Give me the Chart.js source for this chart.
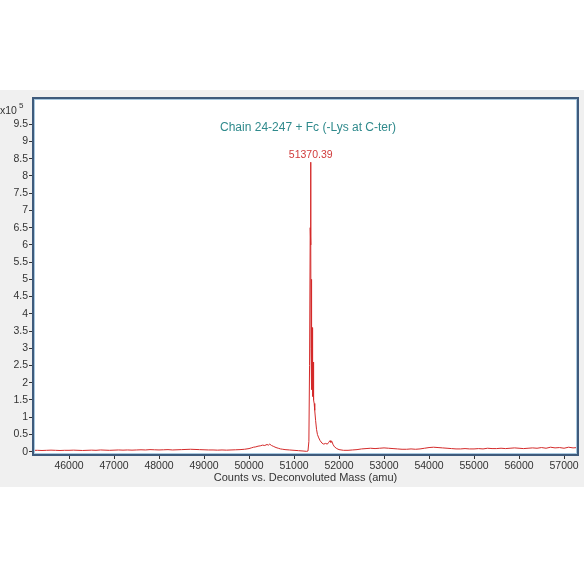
<!DOCTYPE html>
<html>
<head>
<meta charset="utf-8">
<script src="https://cdn.jsdelivr.net/npm/chart.js@4"></script>
<style>
  html, body { margin: 0; padding: 0; background: #ffffff; }
  #panel { position: absolute; left: 0; top: 90px; width: 584px; height: 397px; background: #f0f0f0; }
  canvas { display: block; }
</style>
</head>
<body>
<div id="panel"><canvas id="c" width="584" height="397"></canvas></div>
<script>
// ---- Data (counts in units of 10^5) ----
const masses = [
  45200,45300,45400,45500,45600,45700,45800,45900,46000,46100,46200,46300,46400,46500,46600,46700,46800,46900,
  47000,47100,47200,47300,47400,47500,47600,47700,47800,47900,48000,48100,48200,48300,48400,48500,48600,48700,
  48800,48900,49000,49100,49200,49300,49400,49500,49600,49700,49800,49900,
  50000,50050,50100,50150,50200,50250,50300,50350,50400,50430,50460,50500,50550,50600,50650,50700,50750,50800,
  50900,51000,51100,51200,51280,51310,51330,51345,51360,51370,51374,51378,51382,51385,51388,51391,51394,51397,
  51400,51403,51406,51409,51412,51415,51418,51421,51424,51427,51430,51434,51438,51442,51448,51460,51480,51500,
  51520,51550,51580,51620,51660,51700,51740,51770,
  51800,51820,51840,51870,51900,51950,52000,52100,52200,52300,52400,52500,52600,52700,52800,52900,53000,53100,
  53200,53300,53400,53500,53600,53700,53800,53900,54000,54100,54200,54300,54400,54500,54600,54700,54800,54900,
  55000,55100,55200,55300,55400,55500,55600,55700,55800,55900,56000,56100,56200,56300,56400,56500,56600,56700,
  56800,56900,57000,57100,57200,57300
];
const counts = [
  0.04,0.04,0.035,0.04,0.045,0.04,0.035,0.04,0.04,0.045,0.04,0.035,0.04,0.045,0.04,0.05,0.045,0.04,
  0.045,0.05,0.045,0.05,0.045,0.05,0.055,0.05,0.06,0.055,0.05,0.055,0.06,0.05,0.055,0.06,0.065,0.07,
  0.065,0.06,0.055,0.05,0.05,0.045,0.05,0.045,0.05,0.055,0.06,0.07,
  0.09,0.11,0.13,0.14,0.16,0.17,0.19,0.18,0.21,0.19,0.22,0.18,0.15,0.12,0.10,0.08,0.07,0.06,
  0.05,0.04,0.03,0.02,0.01,0.02,0.3,2.5,6.5,8.4,6.0,3.0,5.0,2.0,4.6,1.8,4.3,2.2,
  3.6,1.7,3.3,2.0,3.0,1.6,2.8,1.8,2.6,1.5,2.4,1.6,2.1,1.5,1.4,1.2,0.9,0.65,
  0.5,0.4,0.32,0.25,0.22,0.24,0.22,0.27,
  0.32,0.27,0.30,0.20,0.14,0.09,0.06,0.04,0.04,0.05,0.06,0.08,0.09,0.10,0.09,0.10,0.11,0.10,
  0.09,0.08,0.07,0.07,0.08,0.07,0.08,0.10,0.12,0.13,0.12,0.11,0.10,0.09,0.08,0.08,0.09,0.08,
  0.08,0.09,0.08,0.10,0.09,0.09,0.10,0.09,0.10,0.11,0.10,0.09,0.10,0.11,0.10,0.12,0.10,0.13,
  0.11,0.12,0.10,0.13,0.11,0.12
];
const xTicks = [46000,47000,48000,49000,50000,51000,52000,53000,54000,55000,56000,57000];
const yTicks = [0,0.5,1,1.5,2,2.5,3,3.5,4,4.5,5,5.5,6,6.5,7,7.5,8,8.5,9,9.5];
const chartTitle = 'Chain 24-247 + Fc (-Lys at C-ter)';
const xTitle = 'Counts vs. Deconvoluted Mass (amu)';
const peakMass = 51370.39;
const peakCount = 8.4;

const points = masses.map((m, i) => ({x: m, y: counts[i]}));
const FONT = '"Liberation Sans", Arial, sans-serif';

const framePlugin = {
  id: 'frame',
  beforeDraw(chart) {
    const {ctx, chartArea: a} = chart;
    ctx.save();
    ctx.fillStyle = '#ffffff';
    ctx.fillRect(a.left, a.top, a.right - a.left, a.bottom - a.top);
    ctx.restore();
  },
  afterDraw(chart) {
    const {ctx, chartArea: a, scales} = chart;
    ctx.save();
    ctx.strokeStyle = '#a9c9e0';
    ctx.lineWidth = 1;
    ctx.strokeRect(a.left + 1.5, a.top + 1.5, a.right - a.left - 3, a.bottom - a.top - 3);
    ctx.strokeStyle = '#3f5b7c';
    ctx.lineWidth = 2;
    ctx.strokeRect(a.left, a.top, a.right - a.left, a.bottom - a.top);
    ctx.fillStyle = '#2f8a8c';
    ctx.font = '12px ' + FONT;
    ctx.textAlign = 'center';
    ctx.textBaseline = 'middle';
    ctx.fillText(chartTitle, 308, 38);
    const px = scales.x.getPixelForValue(peakMass);
    const py = scales.y.getPixelForValue(peakCount);
    ctx.fillStyle = '#d03a3a';
    ctx.font = '10.5px ' + FONT;
    ctx.textBaseline = 'bottom';
    ctx.fillText(peakMass.toFixed(2), px, py - 2);
    ctx.fillStyle = '#333333';
    ctx.textAlign = 'left';
    ctx.textBaseline = 'middle';
    ctx.font = '10.5px ' + FONT;
    ctx.fillText('x10', 0, 21);
    ctx.font = '8px ' + FONT;
    ctx.fillText('5', 19, 16);
    ctx.restore();
  }
};

new Chart(document.getElementById('c'), {
  type: 'line',
  data: {
    datasets: [{
      data: points,
      borderColor: '#d42a2a',
      borderWidth: 1,
      pointRadius: 0,
      tension: 0,
      fill: false
    }]
  },
  options: {
    responsive: false,
    animation: false,
    layout: { padding: { left: 0, top: 8, right: 6, bottom: 0 } },
    plugins: { legend: { display: false }, tooltip: { enabled: false }, title: { display: false } },
    scales: {
      x: {
        type: 'linear',
        min: 45200,
        max: 57310,
        afterBuildTicks: s => { s.ticks = xTicks.map(v => ({value: v})); },
        afterFit: s => { s.height = 32; },
        grid: { drawOnChartArea: false, drawTicks: true, tickLength: 4, color: '#333333' },
        border: { display: false },
        ticks: {
          autoSkip: false, maxRotation: 0, padding: 1,
          color: '#333333', font: { family: FONT, size: 10.5 },
          callback: v => String(v)
        },
        title: {
          display: true, text: xTitle, color: '#333333',
          font: { family: FONT, size: 11 }, padding: { top: 0, bottom: 2 }
        }
      },
      y: {
        type: 'linear',
        min: -0.096,
        max: 10.263,
        afterBuildTicks: s => { s.ticks = yTicks.map(v => ({value: v})); },
        afterFit: s => { s.width = 33; },
        grid: { drawOnChartArea: false, drawTicks: true, tickLength: 4, color: '#333333' },
        border: { display: false },
        ticks: {
          autoSkip: false, padding: 1,
          color: '#333333', font: { family: FONT, size: 10.5 },
          callback: v => String(Number(v.toFixed(1)))
        }
      }
    }
  },
  plugins: [framePlugin]
});
</script>
</body>
</html>
